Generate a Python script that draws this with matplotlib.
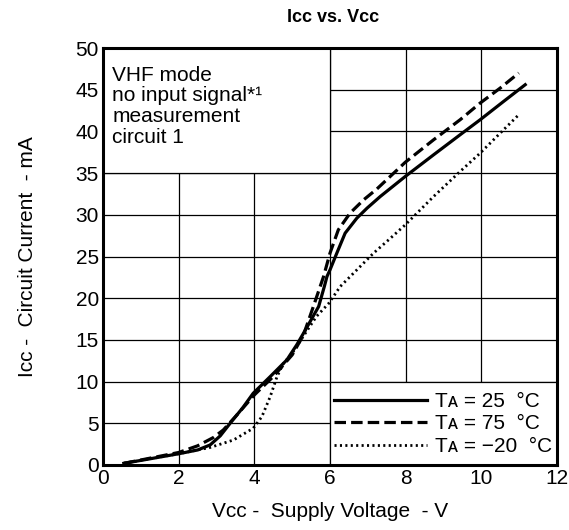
import matplotlib
matplotlib.use("Agg")
import matplotlib.pyplot as plt
from matplotlib.patches import Rectangle

plt.rcParams['font.family'] = ['Liberation Sans', 'DejaVu Sans']

# Data (Vcc in V, Icc in mA)
v_25 = [0.55, 1.0, 1.5, 2.0, 2.5, 2.83, 3.1, 3.36, 3.7, 3.97, 4.42, 4.86, 5.12, 5.3, 5.5, 5.7,
        5.85, 5.92, 6.0, 6.18, 6.4, 6.71, 6.98, 7.33, 7.99, 8.74, 9.44, 9.97, 10.59, 11.16]
i_25 = [0.2, 0.55, 0.95, 1.35, 1.8, 2.4, 3.5, 5.0, 6.9, 8.6, 10.6, 12.6, 14.4, 15.8, 17.4, 19.0,
        21.4, 22.6, 23.4, 25.4, 27.8, 29.6, 30.8, 32.2, 34.6, 37.2, 39.6, 41.4, 43.6, 45.6]

v_75 = [0.55, 1.0, 1.5, 2.0, 2.5, 2.92, 3.18, 3.5, 4.0, 4.5, 5.0, 5.3, 5.56, 5.83,
        6.0, 6.22, 6.53, 6.89, 7.24, 7.99, 8.74, 9.44, 9.97, 10.5, 10.99]
i_75 = [0.2, 0.6, 1.05, 1.5, 2.3, 3.3, 4.2, 5.8, 8.4, 10.6, 13.2, 15.6, 19.0, 22.6,
        25.4, 28.2, 30.2, 31.8, 33.1, 36.3, 39.0, 41.4, 43.4, 45.2, 47.0]

v_m20 = [0.55, 1.0, 1.5, 2.0, 2.5, 2.83, 3.45, 3.97, 4.2, 4.42, 4.6, 4.77, 5.0, 5.29, 5.64,
         5.97, 6.27, 6.71, 7.15, 7.55, 7.99, 8.74, 9.44, 9.97, 10.5, 10.99]
i_m20 = [0.2, 0.55, 0.95, 1.35, 1.8, 2.1, 3.0, 4.4, 5.8, 8.2, 10.6, 12.2, 13.4, 15.4, 17.8,
         19.4, 21.4, 23.4, 25.4, 27.0, 28.8, 32.2, 35.2, 37.4, 39.8, 42.0]

x_ticks = [0, 2, 4, 6, 8, 10, 12]
y_ticks = [0, 5, 10, 15, 20, 25, 30, 35, 40, 45, 50]
labels = ["T\u1d00 = 25  \u00b0C", "T\u1d00 = 75  \u00b0C", "T\u1d00 = \u221220  \u00b0C"]

FS = 15

fig = plt.figure(figsize=(5.69, 5.30), dpi=100)
ax = fig.add_axes([103/569, 1-465/530, (557-103)/569, (465-48)/530])

ax.set_xlim(0, 12)
ax.set_ylim(0, 50)
ax.set_xticks(x_ticks)
ax.set_yticks(y_ticks)
ax.tick_params(length=0, labelsize=FS, pad=3)
ax.grid(True, color='black', linewidth=0.9, zorder=0)
ax.set_axisbelow(True)
for s in ax.spines.values():
    s.set_linewidth(2.2)
    s.set_zorder(10)

# white boxes hiding grid (text box and legend area)
ax.add_patch(Rectangle((0, 35), 6, 15, facecolor='white', edgecolor='black', linewidth=0.9, zorder=1))
ax.add_patch(Rectangle((6, 0), 6, 10, facecolor='white', edgecolor='black', linewidth=0.9, zorder=1))

l1, = ax.plot(v_25, i_25, color='black', linewidth=2.3, linestyle='-', zorder=3, label=labels[0])
l2, = ax.plot(v_75, i_75, color='black', linewidth=2.3, linestyle=(0, (3.6, 1.6)), zorder=3, label=labels[1])
l3, = ax.plot(v_m20, i_m20, color='black', linewidth=2.0, linestyle=(0, (0.75, 1.2)), zorder=3, label=labels[2])

leg = ax.legend(handles=[l1, l2, l3], loc='lower right', bbox_to_anchor=(1.0, 0.009),
                frameon=False, fontsize=FS,
                handlelength=4.5, handletextpad=0.35, labelspacing=0.17,
                borderaxespad=0.0, borderpad=0.25)
leg.set_zorder(5)

ax.text(0.24, 47.9, "VHF mode\nno input signal*\u00b9\nmeasurement\ncircuit 1",
        ha='left', va='top', fontsize=FS, linespacing=1.13, zorder=5)

fig.text(ax.get_position().x0 + ax.get_position().width/2 + 3/569, 1-18/530,
         "I\u1d04\u1d04 vs. V\u1d04\u1d04", ha='center', va='center', fontsize=13, fontweight='bold')
ax.set_xlabel("V\u1d04\u1d04 -  Supply Voltage  - V", fontsize=FS, labelpad=10)
ax.set_ylabel("I\u1d04\u1d04 -  Circuit Current  - mA", fontsize=FS, labelpad=28)

fig.savefig("out.png", dpi=100)
